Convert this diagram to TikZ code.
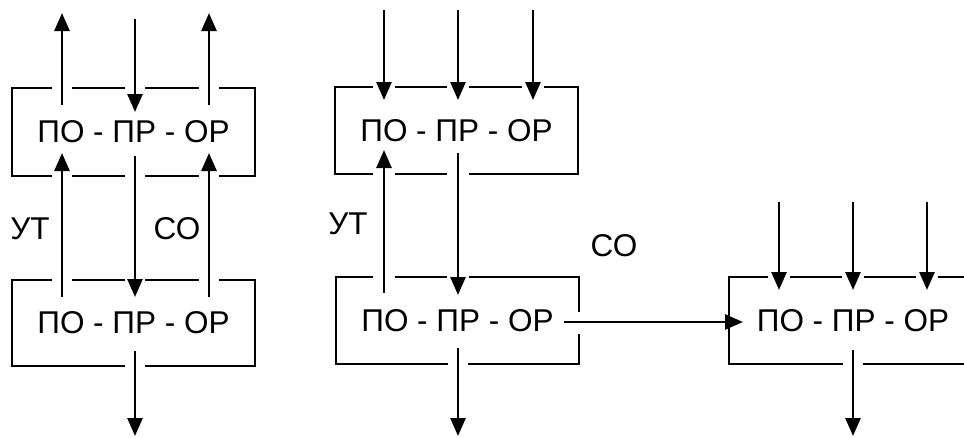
\documentclass[tikz,border=0pt]{standalone}
\usepackage{fontspec}
\setmainfont{Liberation Sans}
\usetikzlibrary{arrows.meta}
\tikzset{
  box/.style={draw=black, line width=1.4pt, inner sep=0pt, font=\fontsize{31.5}{37}\selectfont},
  txt/.style={inner sep=0pt, font=\fontsize{31.5}{37}\selectfont},
  arr/.style={line width=2.6pt, -{Triangle[length=18pt,width=15pt]}},
  gapv/.style={fill=white},
}
\begin{document}
\begin{tikzpicture}[x=1pt,y=-1pt]
\useasboundingbox (0,0) rectangle (964,437);
% boxes
\node[box, minimum width=243pt, minimum height=88pt] (b1) at (133.5,132) {ПО - ПР - ОР};
\node[box, minimum width=243pt, minimum height=86pt] (b2) at (133.5,323) {ПО - ПР - ОР};
\node[box, minimum width=243pt, minimum height=87pt] (b3) at (456.5,130.5) {ПО - ПР - ОР};
\node[box, minimum width=243pt, minimum height=87pt] (b4) at (457.5,320.5) {ПО - ПР - ОР};
\node[txt] (b5) at (853,321) {ПО - ПР - ОР};
\draw[line width=1.4pt] (964,277) -- (729,277) -- (729,364) -- (964,364);
% gaps in borders
\foreach \x in {62,135,209} {
  \fill[gapv] (\x-10,84) rectangle (\x+10,91);
  \fill[gapv] (\x-10,172) rectangle (\x+10,180);
  \fill[gapv] (\x-10,276) rectangle (\x+10,284);
}
\fill[gapv] (125,362) rectangle (145,370);
\foreach \x in {384,458,533} { \fill[gapv] (\x-11,83) rectangle (\x+11,91); }
\foreach \x in {384,458} { \fill[gapv] (\x-11,170) rectangle (\x+11,178); \fill[gapv] (\x-11,273) rectangle (\x+11,281); }
\fill[gapv] (448,360) rectangle (468,368);
\fill[gapv] (575,312) rectangle (583,334);
\foreach \x in {779,853,927} { \fill[gapv] (\x-11,273) rectangle (\x+11,281); }
\fill[gapv] (843,360) rectangle (863,368);
% coordinates
\coordinate (t1a) at (62,13);  \coordinate (s1a) at (62,105);
\coordinate (t1b) at (135,19); \coordinate (s1b) at (135,112);
\coordinate (t1c) at (209,13); \coordinate (s1c) at (209,105);
\coordinate (u1a) at (62,153); \coordinate (v1a) at (62,297);
\coordinate (u1b) at (135,156);\coordinate (v1b) at (135,297);
\coordinate (u1c) at (209,153);\coordinate (v1c) at (209,297);
\coordinate (w1) at (135,351); \coordinate (e1) at (135,436);
\coordinate (t3a) at (384,10); \coordinate (s3a) at (384,100);
\coordinate (t3b) at (458,10); \coordinate (s3b) at (458,100);
\coordinate (t3c) at (533,10); \coordinate (s3c) at (533,100);
\coordinate (u3a) at (384,150);\coordinate (v3a) at (384,293);
\coordinate (u3b) at (458,153);\coordinate (v3b) at (458,295);
\coordinate (w3) at (458,348); \coordinate (e3) at (458,436);
\coordinate (h1) at (564,322); \coordinate (h2) at (743,322);
\coordinate (t5a) at (779,202); \coordinate (s5a) at (779,290);
\coordinate (t5b) at (853,202); \coordinate (s5b) at (853,290);
\coordinate (t5c) at (927,202); \coordinate (s5c) at (927,290);
\coordinate (w5) at (853,350); \coordinate (e5) at (853,436);
% arrows left group
\draw[arr] (s1a) -- (t1a);
\draw[arr] (t1b) -- (s1b);
\draw[arr] (s1c) -- (t1c);
\draw[arr] (v1a) -- (u1a);
\draw[arr] (u1b) -- (v1b);
\draw[arr] (v1c) -- (u1c);
\draw[arr] (w1) -- (e1);
% middle group
\draw[arr] (t3a) -- (s3a);
\draw[arr] (t3b) -- (s3b);
\draw[arr] (t3c) -- (s3c);
\draw[arr] (v3a) -- (u3a);
\draw[arr] (u3b) -- (v3b);
\draw[arr] (w3) -- (e3);
\draw[arr] (h1) -- (h2);
% right group
\draw[arr] (t5a) -- (s5a);
\draw[arr] (t5b) -- (s5b);
\draw[arr] (t5c) -- (s5c);
\draw[arr] (w5) -- (e5);
% labels
\node[txt] (ut1) at (30,229) {УТ};
\node[txt] (co1) at (177,229) {СО};
\node[txt] (ut2) at (348,224) {УТ};
\node[txt] (co2) at (614,246) {СО};
\end{tikzpicture}
\end{document}
